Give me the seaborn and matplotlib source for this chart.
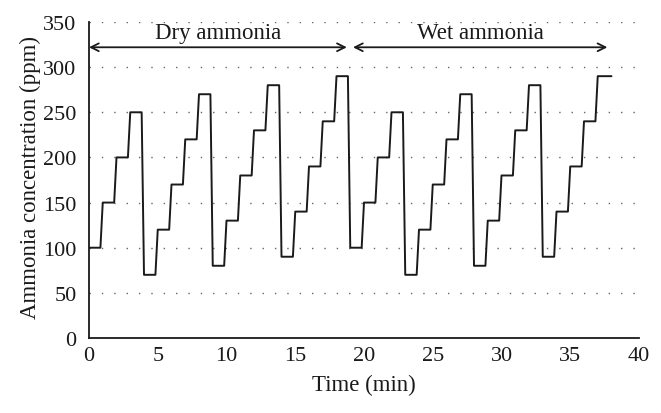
import numpy as np
import pandas as pd
import matplotlib
matplotlib.use("Agg")
import matplotlib.pyplot as plt
import seaborn as sns

# Step start times (min) and concentration levels (ppm)
step_start = [0, 1, 2, 3,
              4, 5, 6, 7, 8,
              9, 10, 11, 12, 13,
              14, 15, 16, 17, 18,
              19, 20, 21, 22,
              23, 24, 25, 26, 27,
              28, 29, 30, 31, 32,
              33, 34, 35, 36, 37]
step_value = [100, 150, 200, 250,
              70, 120, 170, 220, 270,
              80, 130, 180, 230, 280,
              90, 140, 190, 240, 290,
              100, 150, 200, 250,
              70, 120, 170, 220, 270,
              80, 130, 180, 230, 280,
              90, 140, 190, 240, 290]
end_time = 38

region_labels = ["Dry ammonia", "Wet ammonia"]
region_start = [0, 19.2]
region_end = [18.75, 37.7]

x_ticks = [0, 5, 10, 15, 20, 25, 30, 35, 40]
y_ticks = [0, 50, 100, 150, 200, 250, 300, 350]

# Build step trace vertices (each plateau followed by a short slanted transition)
plateau = 0.83
xs, ys = [], []
for i, (t, v) in enumerate(zip(step_start, step_value)):
    t_end = end_time if i == len(step_start) - 1 else t + plateau
    xs += [t, t_end]
    ys += [v, v]
df = pd.DataFrame({"time": xs, "conc": ys})

sns.set_style("white")
plt.rcParams["font.family"] = ["Liberation Serif", "DejaVu Serif"]

fig = plt.figure(figsize=(6.61, 4.14), dpi=100)
ax = fig.add_axes([89/661, 1-339/414, (639-89)/661, (339-23)/414])

for yv in y_ticks[1:]:
    ax.plot([0, 40], [yv, yv], color="#666666", lw=1.0, ls=(0, (1, 7.9)), zorder=0)

sns.lineplot(data=df, x="time", y="conc", sort=False, color="#1a1a1a",
             linewidth=1.4, ax=ax, estimator=None)

ax.set_xlim(0, 40)
ax.set_ylim(0, 350)
ax.set_xticks(x_ticks)
ax.set_yticks(y_ticks)
ax.tick_params(axis="both", length=0, labelsize=16, colors="#1a1a1a")
ax.tick_params(axis="x", pad=6)
ax.tick_params(axis="y", pad=9)
for s in ["top", "right"]:
    ax.spines[s].set_visible(False)
for s in ["left", "bottom"]:
    ax.spines[s].set_color("#1a1a1a")
    ax.spines[s].set_linewidth(1.3)

ax.set_xlabel("Time (min)", fontsize=16.5, color="#1a1a1a")
ax.set_ylabel("Ammonia concentration (ppm)", fontsize=16.5, color="#1a1a1a")
ax.xaxis.set_label_coords(0.5, -0.115)
ax.yaxis.set_label_coords(-0.088, 0.51)

for lab, a, b in zip(region_labels, region_start, region_end):
    ax.annotate("", xy=(a, 322), xytext=(b, 322),
                arrowprops=dict(arrowstyle="<->", color="#1a1a1a", lw=1.3,
                                shrinkA=0, shrinkB=0, mutation_scale=14),
                annotation_clip=False)
    ax.text((a + b) / 2, 327, lab, ha="center", va="bottom", fontsize=16.5,
            color="#1a1a1a")

fig.savefig("out.png", dpi=100)
